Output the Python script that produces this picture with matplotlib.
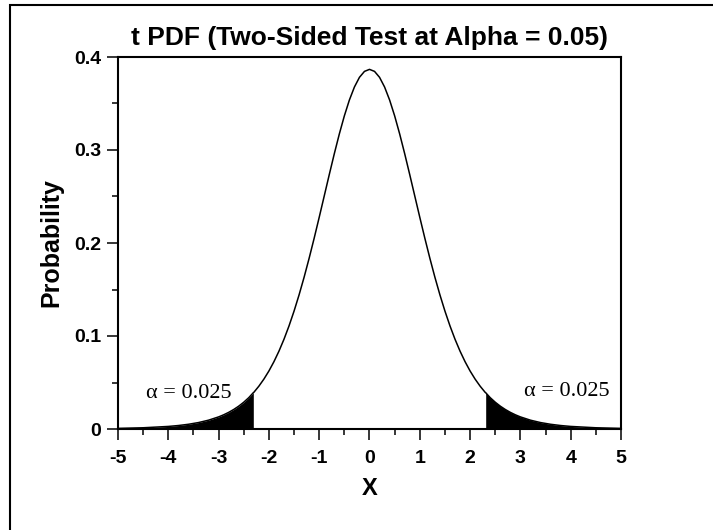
import matplotlib.pyplot as plt
from matplotlib.patches import Rectangle
from matplotlib.ticker import MultipleLocator

# t density (8 df), symmetric about 0
x_vals = [-5.0, -4.5, -4.0, -3.8, -3.6, -3.4, -3.2, -3.0, -2.9, -2.8, -2.7, -2.6,
          -2.5, -2.4, -2.31, -2.3, -2.2, -2.1, -2.0, -1.9, -1.8, -1.7, -1.6, -1.5,
          -1.4, -1.3, -1.2, -1.1, -1.0, -0.9, -0.8, -0.7, -0.6, -0.5, -0.4, -0.3,
          -0.2, -0.1, 0.0, 0.1, 0.2, 0.3, 0.4, 0.5, 0.6, 0.7, 0.8, 0.9, 1.0, 1.1,
          1.2, 1.3, 1.4, 1.5, 1.6, 1.7, 1.8, 1.9, 2.0, 2.1, 2.2, 2.3, 2.31, 2.4,
          2.5, 2.6, 2.7, 2.8, 2.9, 3.0, 3.2, 3.4, 3.6, 3.8, 4.0, 4.5, 5.0]
pdf_vals = [0.00066, 0.00132, 0.00276, 0.00373, 0.00507, 0.00692, 0.00948, 0.01301,
            0.01525, 0.01788, 0.02097, 0.02457, 0.02879, 0.03369, 0.03903, 0.03939,
            0.04600, 0.05362, 0.06236, 0.07237, 0.08372, 0.09653, 0.11086, 0.12677,
            0.14425, 0.16324, 0.18362, 0.20517, 0.22761, 0.25055, 0.27351, 0.29593,
            0.31721, 0.33670, 0.35373, 0.36771, 0.37812, 0.38453, 0.38670, 0.38453,
            0.37812, 0.36771, 0.35373, 0.33670, 0.31721, 0.29593, 0.27351, 0.25055,
            0.22761, 0.20517, 0.18362, 0.16324, 0.14425, 0.12677, 0.11086, 0.09653,
            0.08372, 0.07237, 0.06236, 0.05362, 0.04600, 0.03939, 0.03903, 0.03369,
            0.02879, 0.02457, 0.02097, 0.01788, 0.01525, 0.01301, 0.00948, 0.00692,
            0.00507, 0.00373, 0.00276, 0.00132, 0.00066]
crit = 2.31
alpha_label = "\u03b1 = 0.025"
x_ticks = [-5, -4, -3, -2, -1, 0, 1, 2, 3, 4, 5]
y_ticks = [0, 0.1, 0.2, 0.3, 0.4]
y_tick_labels = ["0", "0.1", "0.2", "0.3", "0.4"]

plt.rcParams['font.family'] = ['Liberation Sans', 'DejaVu Sans']

fig = plt.figure(figsize=(7.13, 5.30), dpi=100)
ax = fig.add_axes([118/713, 1 - 429/530, (621 - 118)/713, (429 - 57)/530])

ax.plot(x_vals, pdf_vals, color='black', lw=1.1)
ax.fill_between(x_vals, 0, pdf_vals, where=[v <= -crit for v in x_vals], color='black', lw=0)
ax.fill_between(x_vals, 0, pdf_vals, where=[v >= crit for v in x_vals], color='black', lw=0)

ax.set_xlim(-5, 5)
ax.set_ylim(0, 0.4)
ax.set_xticks(x_ticks)
ax.set_xticklabels([str(t) for t in x_ticks])
ax.set_yticks(y_ticks)
ax.set_yticklabels(y_tick_labels)
ax.xaxis.set_minor_locator(MultipleLocator(0.5))
ax.yaxis.set_minor_locator(MultipleLocator(0.05))
ax.tick_params(which='major', direction='out', length=8, width=1.1, labelsize=14, pad=4)
ax.tick_params(which='minor', direction='out', length=4, width=1.1)
ax.tick_params(axis='x', which='major', pad=7)
for lab in ax.get_xticklabels() + ax.get_yticklabels():
    lab.set_fontweight('bold')
for sp in ax.spines.values():
    sp.set_linewidth(1.5)

ax.set_title("t PDF (Two-Sided Test at Alpha = 0.05)", fontsize=19, fontweight='bold', pad=9)
ax.set_ylabel("Probability", fontsize=18, fontweight='bold', labelpad=8)
ax.set_xlabel("X", fontsize=17, fontweight='bold', labelpad=7)

ax.text(-3.6, 0.0387, alpha_label, ha='center', va='center', fontsize=16,
        family=['Liberation Serif', 'DejaVu Serif'])
ax.text(3.92, 0.040, alpha_label, ha='center', va='center', fontsize=16,
        family=['Liberation Serif', 'DejaVu Serif'])

# outer frame of the screenshot: only left and top edges show
fig.add_artist(Rectangle((10/713, -0.1), 1.0, 1.1 - 5/530, transform=fig.transFigure,
                         fill=False, lw=1.5, color='black'))

fig.savefig("out.png", dpi=100)
